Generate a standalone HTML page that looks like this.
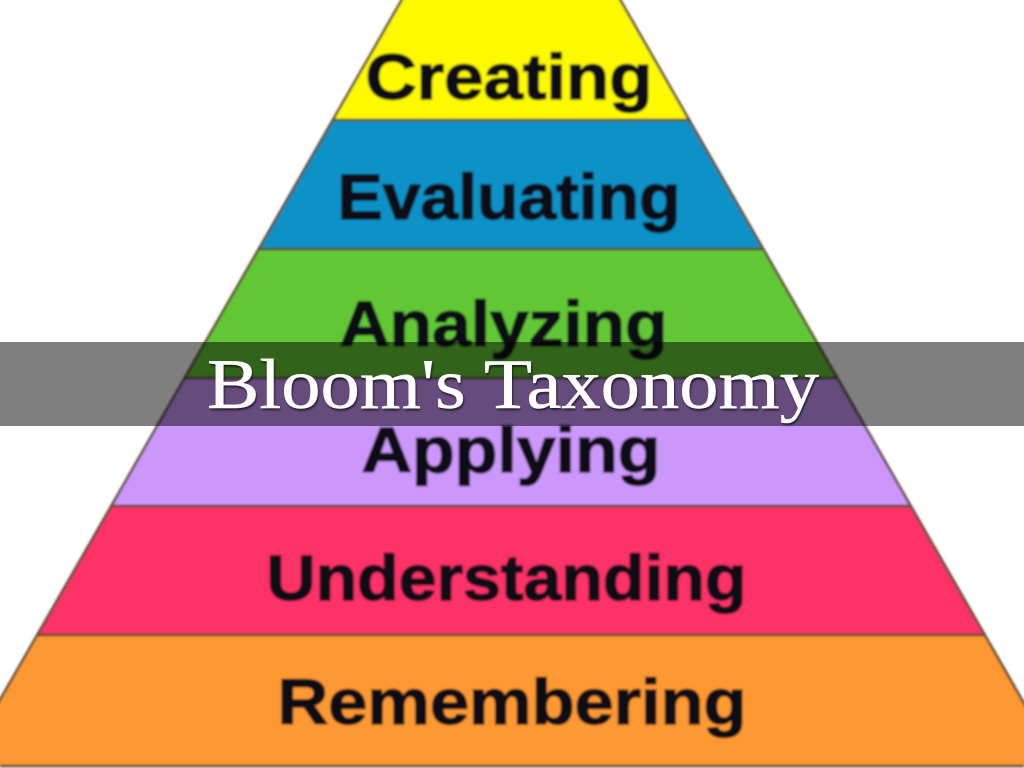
<!DOCTYPE html>
<html>
<head>
<meta charset="utf-8">
<style>
html,body{margin:0;padding:0;width:1024px;height:768px;overflow:hidden;background:#fff}
svg{display:block;position:absolute;left:0;top:0}
.l{font-family:"Liberation Sans",sans-serif;font-weight:700;fill:#0e0c18;stroke:#0e0c18;stroke-width:1.4;text-anchor:middle}
</style>
</head>
<body>
<svg width="1024" height="768" viewBox="0 0 1024 768" xmlns="http://www.w3.org/2000/svg">
<defs><filter id="b" x="-5%" y="-5%" width="110%" height="110%"><feGaussianBlur stdDeviation="1"/></filter>
<filter id="s" x="-5%" y="-20%" width="110%" height="140%"><feGaussianBlur stdDeviation="1"/></filter></defs>
<rect width="1024" height="768" fill="#fff"/>
<g filter="url(#b)">
<polygon points="404,-4 618,-4 688,120 333,120" fill="#fdf900"/>
<polygon points="333,120 688,120 762,249 259,249" fill="#0a92c8"/>
<polygon points="259,249 762,249 836,378 186,378" fill="#62c734"/>
<polygon points="186,378 836,378 910,506 112,506" fill="#cc97fb"/>
<polygon points="112,506 910,506 984,635 38,635" fill="#fd3166"/>
<polygon points="38,635 984,635 1060,766 -38,766" fill="#fe9832"/>
<g stroke="#5a4a30" stroke-width="2.5" fill="none">
<path d="M404,-4 L-38,766"/><path d="M618,-4 L1060,766"/>
<path d="M333,120H688M259,249H762M186,378H836M112,506H910M38,635H984M0,766H1024"/>
</g>
<text class="l" x="509" y="99" font-size="64" textLength="287" lengthAdjust="spacingAndGlyphs">Creating</text>
<text class="l" x="509" y="219" font-size="64" textLength="343" lengthAdjust="spacingAndGlyphs">Evaluating</text>
<text class="l" x="503.5" y="346" font-size="64" textLength="328" lengthAdjust="spacingAndGlyphs">Analyzing</text>
<text class="l" x="511" y="472" font-size="64" textLength="299" lengthAdjust="spacingAndGlyphs">Applying</text>
<text class="l" x="506.5" y="600" font-size="64" textLength="480" lengthAdjust="spacingAndGlyphs">Understanding</text>
<text class="l" x="512" y="724" font-size="64" textLength="469" lengthAdjust="spacingAndGlyphs">Remembering</text>
</g>
<rect x="0" y="342" width="1024" height="84" fill="#000" fill-opacity="0.5"/>
<text x="513" y="408" font-family="'Liberation Serif',serif" font-size="71" fill="#000" fill-opacity="0.7" text-anchor="middle" textLength="612" lengthAdjust="spacingAndGlyphs" filter="url(#s)" transform="translate(1,2)">Bloom's Taxonomy</text>
<text x="513" y="408" font-family="'Liberation Serif',serif" font-size="71" fill="#fff" stroke="#fff" stroke-width="0.5" text-anchor="middle" textLength="612" lengthAdjust="spacingAndGlyphs">Bloom's Taxonomy</text>
</svg>
</body>
</html>
